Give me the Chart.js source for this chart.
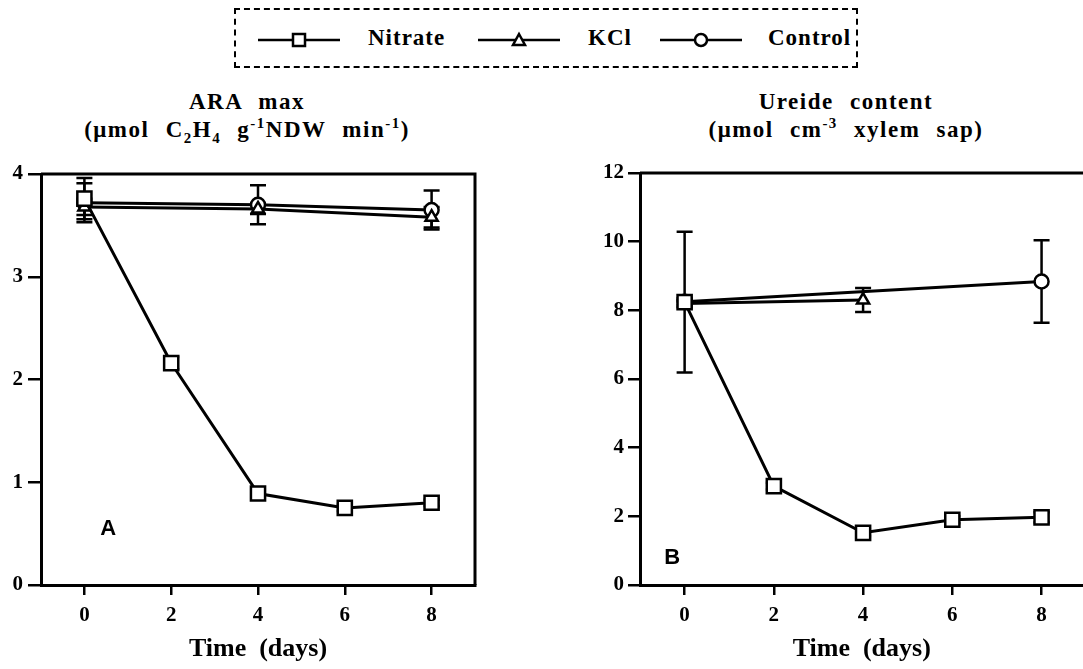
<!DOCTYPE html>
<html>
<head>
<meta charset="utf-8">
<script src="https://cdn.jsdelivr.net/npm/chart.js@4/dist/chart.umd.min.js"></script>
<style>
  body { margin: 0; background: #fff; width: 1083px; height: 669px; position: relative; overflow: hidden;
         font-family: "Liberation Serif", serif; font-weight: bold; color: #000; }
  .box { position: absolute; left: 234px; top: 8px; width: 624px; height: 60px; border: 2px dashed #000; box-sizing: border-box; }
  .lg { position: absolute; top: 30px; }
  .lt { position: absolute; top: 24px; font-size: 23px; letter-spacing: 1px; line-height: 28px; }
  .ttl { position: absolute; top: 88px; width: 460px; text-align: center; font-size: 23px; line-height: 28px;
         letter-spacing: 1.5px; word-spacing: 9px; white-space: nowrap; }
  .ttl sub, .ttl sup { font-size: 65%; line-height: 0; }
  .panel { position: absolute; top: 150px; height: 519px; }
</style>
</head>
<body>

<div class="box"></div>
<svg class="lg" style="left:258px" width="82" height="20"><line x1="0" y1="10" x2="82" y2="10" stroke="#000" stroke-width="2.5"/><rect x="35" y="4" width="12" height="12" fill="#fff" stroke="#000" stroke-width="2.5"/></svg>
<div class="lt" style="left:368px">Nitrate</div>
<svg class="lg" style="left:478px" width="82" height="20"><line x1="0" y1="10" x2="82" y2="10" stroke="#000" stroke-width="2.5"/><polygon points="41,4 47,15 35,15" fill="#fff" stroke="#000" stroke-width="2.5"/></svg>
<div class="lt" style="left:588px">KCl</div>
<svg class="lg" style="left:660px" width="82" height="20"><line x1="0" y1="10" x2="82" y2="10" stroke="#000" stroke-width="2.5"/><circle cx="41" cy="10" r="6" fill="#fff" stroke="#000" stroke-width="2.5"/></svg>
<div class="lt" style="left:768px">Control</div>

<div class="ttl" style="left:17px">ARA max<br>(μmol C<sub>2</sub>H<sub>4</sub> g<sup>-1</sup>NDW min<sup>-1</sup>)</div>
<div class="ttl" style="left:616px">Ureide content<br>(μmol cm<sup>-3</sup> xylem sap)</div>

<div class="panel" style="left:0;width:490px"><canvas id="chartA"></canvas></div>
<div class="panel" style="left:560px;width:536px"><canvas id="chartB"></canvas></div>

<script>
// time points (days)
const days = [0, 2, 4, 6, 8];
const kclDaysA = [0, 4, 8];
const ctrlDaysA = [0, 4, 8];
const kclDaysB = [0, 4];
const ctrlDaysB = [0, 8];

// A: ARA max
const araNitrate = [3.76, 2.16, 0.89, 0.75, 0.80];
const araNitrateErr = [0.2, 0.06, 0.03, 0.03, 0.03];
const araKCl = [3.68, 3.66, 3.58];
const araKClErr = [0.08, 0.05, 0.1];
const araControl = [3.72, 3.70, 3.65];
const araControlErr = [0.19, 0.19, 0.19];
const yTicksA = [0, 1, 2, 3, 4];

// B: ureide content
const ureNitrate = [8.24, 2.88, 1.52, 1.90, 1.97];
const ureNitrateErr = [2.05, 0.1, 0.1, 0.1, 0.15];
const ureKCl = [8.2, 8.3];
const ureKClErr = [0.1, 0.35];
const ureControl = [8.25, 8.84];
const ureControlErr = [0.1, 1.2];
const yTicksB = [0, 2, 4, 6, 8, 10, 12];

const SERIF = "Liberation Serif";

function pts(xs, ys) {
  return xs.map((x, i) => ({ x: x, y: ys[i] }));
}

function series(label, xs, ys, errs, style) {
  return {
    label: label,
    data: pts(xs, ys),
    errors: errs,
    borderColor: "#000",
    backgroundColor: "#fff",
    borderWidth: 3,
    pointStyle: style,
    pointRadius: style === "rect" ? 10 : 7,
    pointBorderWidth: 2.5,
    pointBackgroundColor: "#fff",
    pointBorderColor: "#000",
    tension: 0
  };
}

// error bars go under the markers
const errorBars = {
  id: "errorBars",
  beforeDatasetsDraw(chart) {
    const { ctx, scales: { x, y } } = chart;
    ctx.save();
    ctx.strokeStyle = "#000";
    ctx.lineWidth = 2.5;
    chart.data.datasets.forEach(ds => {
      ds.data.forEach((p, i) => {
        const e = ds.errors[i];
        const px = x.getPixelForValue(p.x);
        const top = y.getPixelForValue(p.y + e);
        const bot = y.getPixelForValue(p.y - e);
        ctx.beginPath();
        ctx.moveTo(px, top); ctx.lineTo(px, bot);
        ctx.moveTo(px - 8, top); ctx.lineTo(px + 8, top);
        ctx.moveTo(px - 8, bot); ctx.lineTo(px + 8, bot);
        ctx.stroke();
      });
    });
    ctx.restore();
  }
};

// top / right frame and panel letter
const frame = {
  id: "frame",
  afterDraw(chart, args, opts) {
    const { ctx, chartArea: a, scales: { x, y } } = chart;
    ctx.save();
    ctx.strokeStyle = "#000";
    ctx.lineWidth = 3;
    ctx.beginPath();
    ctx.moveTo(a.left, a.top);
    ctx.lineTo(opts.right ? a.right : chart.width, a.top);
    if (opts.right) ctx.lineTo(a.right, a.bottom);
    ctx.stroke();
    ctx.fillStyle = "#000";
    ctx.font = "bold 22px 'Liberation Sans'";
    ctx.textAlign = "center";
    ctx.textBaseline = "middle";
    ctx.fillText(opts.letter, x.getPixelForValue(opts.lx), y.getPixelForValue(opts.ly));
    ctx.restore();
  }
};

function xScale(max) {
  return {
    type: "linear",
    min: -1,
    max: max,
    afterBuildTicks: s => { s.ticks = days.map(v => ({ value: v })); },
    grid: { drawOnChartArea: false, drawTicks: true, tickLength: 10, lineWidth: 2.5, color: "#000" },
    border: { display: true, color: "#000", width: 3 },
    ticks: { color: "#000", font: { family: SERIF, weight: "bold", size: 21 }, padding: 8 },
    title: {
      display: true, text: "Time  (days)", color: "#000",
      font: { family: SERIF, weight: "bold", size: 26 }, padding: { top: 0, bottom: 4 }
    },
    afterFit: s => { s.height = 84; }
  };
}

function yScale(ticks, width, tickLen, pad) {
  return {
    type: "linear",
    min: ticks[0],
    max: ticks[ticks.length - 1],
    afterBuildTicks: s => { s.ticks = ticks.map(v => ({ value: v })); },
    grid: { drawOnChartArea: false, drawTicks: true, tickLength: tickLen, lineWidth: 2.5, color: "#000" },
    border: { display: true, color: "#000", width: 3 },
    ticks: { color: "#000", font: { family: SERIF, weight: "bold", size: 21 }, padding: pad },
    afterFit: s => { s.width = width; }
  };
}

new Chart(document.getElementById("chartA"), {
  type: "line",
  data: {
    datasets: [
      series("Nitrate", days, araNitrate, araNitrateErr, "rect"),
      series("KCl", kclDaysA, araKCl, araKClErr, "triangle"),
      series("Control", ctrlDaysA, araControl, araControlErr, "circle")
    ]
  },
  options: {
    responsive: true,
    maintainAspectRatio: false,
    animation: false,
    layout: { padding: { top: 24, right: 15, left: 0, bottom: 0 } },
    plugins: {
      legend: { display: false },
      tooltip: { enabled: false },
      frame: { right: true, letter: "A", lx: 0.55, ly: 0.55 }
    },
    scales: { x: xScale(9), y: yScale(yTicksA, 41, 13, 5) }
  },
  plugins: [errorBars, frame]
});

new Chart(document.getElementById("chartB"), {
  type: "line",
  data: {
    datasets: [
      series("Nitrate", days, ureNitrate, ureNitrateErr, "rect"),
      series("KCl", kclDaysB, ureKCl, ureKClErr, "triangle"),
      series("Control", ctrlDaysB, ureControl, ureControlErr, "circle")
    ]
  },
  options: {
    responsive: true,
    maintainAspectRatio: false,
    animation: false,
    layout: { padding: { top: 23, right: 0, left: 0, bottom: 0 } },
    plugins: {
      legend: { display: false },
      tooltip: { enabled: false },
      frame: { right: false, letter: "B", lx: -0.28, ly: 0.8 }
    },
    scales: { x: xScale(8.94), y: yScale(yTicksB, 80, 12, 4) }
  },
  plugins: [errorBars, frame]
});
</script>
</body>
</html>
